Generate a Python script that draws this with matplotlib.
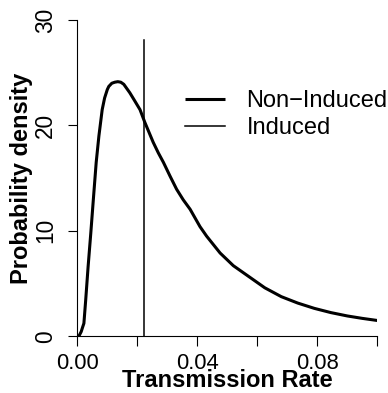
import matplotlib
matplotlib.use("Agg")
import matplotlib.pyplot as plt

# Non-induced density curve
rate = [0.0000, 0.0006, 0.0013, 0.0017, 0.0022, 0.0028, 0.0036, 0.0045, 0.0053,
        0.0063, 0.0072, 0.0083, 0.0091, 0.0100, 0.0105, 0.0110, 0.0115, 0.0125,
        0.0135, 0.0145, 0.0155, 0.0160, 0.0175, 0.0190, 0.0209, 0.0225, 0.0253,
        0.0270, 0.0287, 0.0309, 0.0331, 0.0353, 0.0376, 0.0409, 0.0431, 0.0476,
        0.0520, 0.0570, 0.0625, 0.0680, 0.0735, 0.0790, 0.0845, 0.0900, 0.0950,
        0.1000]
density = [0.00, 0.05, 0.44, 0.80, 1.23, 3.44, 6.60, 9.80, 12.80,
           16.50, 19.00, 21.50, 22.60, 23.40, 23.70, 23.85, 24.00, 24.10,
           24.15, 24.10, 23.90, 23.70, 23.10, 22.40, 21.50, 20.30, 18.40,
           17.40, 16.50, 15.20, 13.95, 12.95, 12.05, 10.40, 9.50, 7.90,
           6.70, 5.70, 4.60, 3.76, 3.15, 2.65, 2.25, 1.93, 1.70,
           1.50]

# Induced: a point mass drawn as a vertical line
induced_rate = 0.0222
induced_height = 28.1

x_ticks = [0.00, 0.02, 0.04, 0.06, 0.08, 0.10]
x_tick_labels = ["0.00", "", "0.04", "", "0.08", ""]
y_ticks = [0, 10, 20, 30]
y_tick_labels = ["0", "10", "20", "30"]

plt.rcParams['font.family'] = ['Liberation Sans', 'DejaVu Sans']

fig = plt.figure(figsize=(3.88, 3.93), dpi=100)
ax = fig.add_axes([77.3 / 388, 1 - 336.3 / 393, 300 / 388, 316.3 / 393])

ax.plot(rate, density, color='black', lw=2.2, label='Non\u2212Induced',
        solid_joinstyle='round', solid_capstyle='butt')
ax.plot([induced_rate, induced_rate], [0, induced_height], color='black', lw=1.1,
        label='Induced')

ax.set_xlim(0, 0.1)
ax.set_ylim(0, 30)
ax.spines['top'].set_visible(False)
ax.spines['right'].set_visible(False)
for s in ('left', 'bottom'):
    ax.spines[s].set_linewidth(0.8)

ax.set_xticks(x_ticks)
ax.set_xticklabels(x_tick_labels)
ax.set_yticks(y_ticks)
ax.set_yticklabels(y_tick_labels, rotation=90, va='center')
ax.tick_params(axis='x', length=7, width=0.8, pad=5, labelsize=15.8)
ax.tick_params(axis='y', length=6.5, width=0.8, pad=8, labelsize=16.3)

ax.set_xlabel('Transmission Rate', fontsize=17, fontweight='bold', labelpad=-3.3)
ax.set_ylabel('Probability density', fontsize=17, fontweight='bold', labelpad=1)

leg = ax.legend(loc='upper left', bbox_to_anchor=(185 / 388, 1 - 90 / 393),
                bbox_transform=fig.transFigure, frameon=False, fontsize=17,
                handlelength=1.7, handletextpad=0.9, labelspacing=0.22,
                borderaxespad=0, borderpad=0)

fig.savefig('out.png', dpi=100)
